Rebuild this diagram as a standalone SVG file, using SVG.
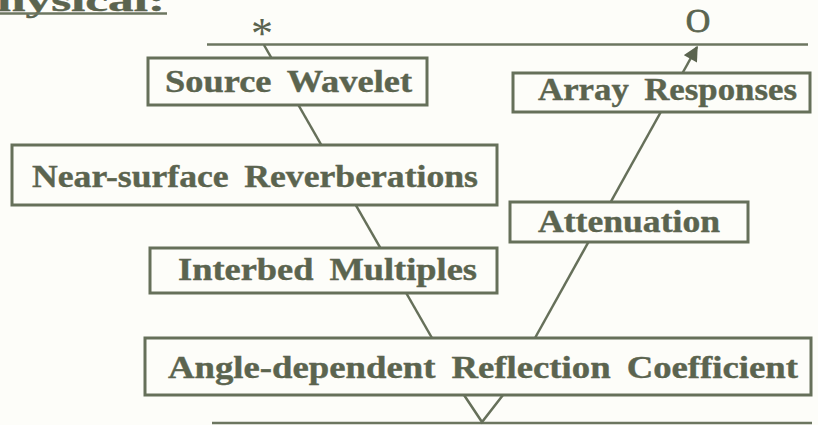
<svg xmlns="http://www.w3.org/2000/svg" width="818" height="425" viewBox="0 0 818 425">
  <defs>
    <style>
      .bg { fill: #fdfdf9; }
      .box { fill: #fdfdf9; stroke: #66705a; stroke-width: 3; }
      .wire { fill: none; stroke: #66705a; stroke-width: 2.5; }
      .rule { fill: none; stroke: #6c7660; stroke-width: 2.5; }
      .lbl { font-family: "Liberation Serif", "Times New Roman", serif; font-weight: bold; font-size: 32px; word-spacing: 6px; fill: #5b644f; stroke: #5b644f; stroke-width: 0.4; }
      .mark { font-family: "Liberation Serif", "Times New Roman", serif; fill: #5b644f; }
    </style>
    <marker id="arrow" viewBox="0 0 10 10" refX="9" refY="5" markerWidth="7" markerHeight="6" markerUnits="strokeWidth" orient="auto">
      <path d="M0,0 L10,5 L0,10 Z" fill="#5b644f"/>
    </marker>
  </defs>

  <rect class="bg" x="0" y="0" width="818" height="425"/>

  <!-- heading, clipped by the top edge -->
  <text class="lbl" x="-3" y="11" font-size="34" textLength="168" lengthAdjust="spacingAndGlyphs">hysical:</text>
  <line class="rule" x1="0" y1="13.5" x2="167" y2="13.5"/>

  <!-- surface and reflector lines with source / receiver marks -->
  <line class="rule" x1="207" y1="44.5" x2="808" y2="44.5"/>
  <line class="rule" x1="212" y1="423" x2="812" y2="423"/>
  <text class="mark" x="262" y="48" font-size="44" text-anchor="middle">*</text>
  <text class="mark" x="698" y="32" font-size="34" text-anchor="middle" stroke="#5b644f" stroke-width="0.8">O</text>

  <g id="connectors">
    <!-- downgoing path: source to reflector -->
    <line class="wire" x1="264" y1="45" x2="432" y2="338"/>
    <!-- reflection point -->
    <polyline class="wire" points="464,395 482,422 503,395"/>
    <!-- upgoing path: reflector to receiver -->
    <line class="wire" x1="535" y1="338" x2="697" y2="47" marker-end="url(#arrow)"/>
  </g>

  <g id="source-wavelet">
    <rect class="box" x="148" y="58" width="279" height="47"/>
    <text class="lbl" x="165" y="92" textLength="247" lengthAdjust="spacingAndGlyphs">Source Wavelet</text>
  </g>

  <g id="array-responses">
    <rect class="box" x="513" y="73" width="297" height="39"/>
    <text class="lbl" x="538" y="100" textLength="259" lengthAdjust="spacingAndGlyphs">Array Responses</text>
  </g>

  <g id="near-surface-reverberations">
    <rect class="box" x="12" y="145" width="485" height="60"/>
    <text class="lbl" x="32" y="187" textLength="446" lengthAdjust="spacingAndGlyphs">Near-surface Reverberations</text>
  </g>

  <g id="attenuation">
    <rect class="box" x="510" y="202" width="238" height="40"/>
    <text class="lbl" x="538" y="232" textLength="182" lengthAdjust="spacingAndGlyphs">Attenuation</text>
  </g>

  <g id="interbed-multiples">
    <rect class="box" x="150" y="248" width="347" height="45"/>
    <text class="lbl" x="178" y="280" textLength="299" lengthAdjust="spacingAndGlyphs">Interbed Multiples</text>
  </g>

  <g id="reflection-coefficient">
    <rect class="box" x="145" y="338" width="666" height="57"/>
    <text class="lbl" x="168" y="378" textLength="630" lengthAdjust="spacingAndGlyphs">Angle-dependent Reflection Coefficient</text>
  </g>
</svg>
